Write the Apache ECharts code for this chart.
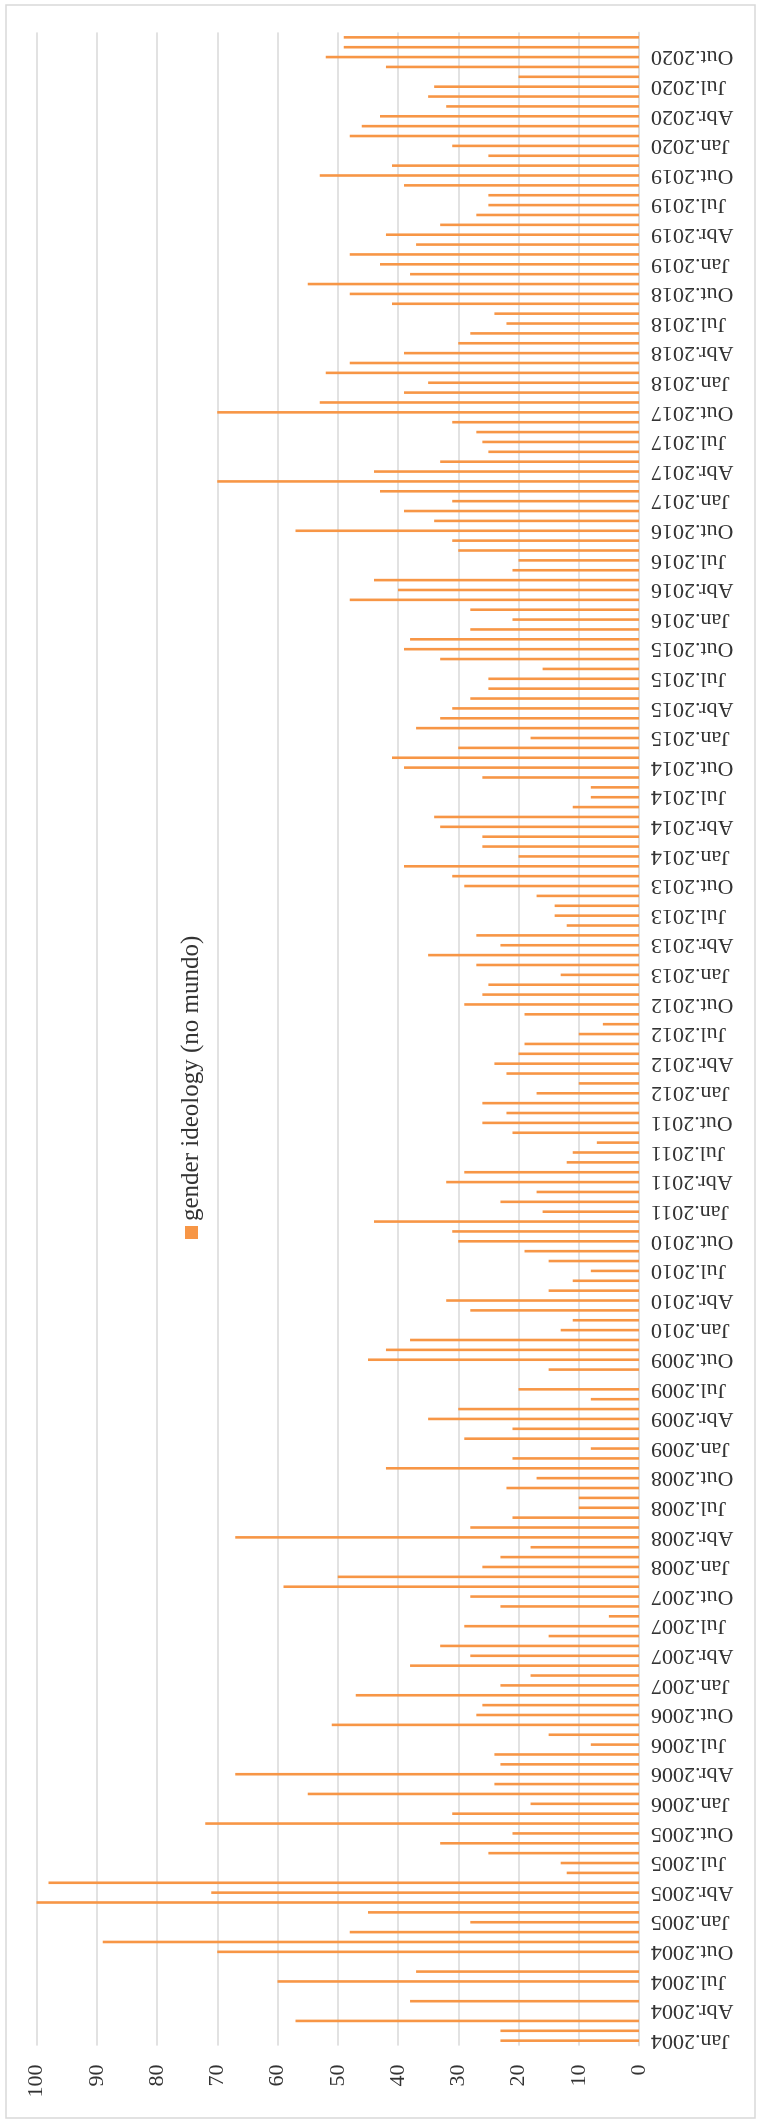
<!DOCTYPE html>
<html><head><meta charset="utf-8">
<script src="https://cdn.jsdelivr.net/npm/echarts@6/dist/echarts.min.js"></script>
<style>
html,body{margin:0;padding:0;background:#fff;width:760px;height:2123px;overflow:hidden;}
#chart{position:absolute;left:0;top:0;width:2123px;height:760px;transform-origin:0 0;transform:translateY(2123px) rotate(-90deg);}
</style></head><body><div id="chart"></div>
<script>
const months = ['Jan','Fev','Mar','Abr','Mai','Jun','Jul','Ago','Set','Out','Nov','Dez'];
const years = [2004,2005,2006,2007,2008,2009,2010,2011,2012,2013,2014,2015,2016,2017,2018,2019,2020];
const seriesName = 'gender ideology (no mundo)';
const yTicks = [0,10,20,30,40,50,60,70,80,90,100];
const v2004 = [23,23,57,0,38,0,60,37,0,70,89,48];
const v2005 = [28,45,100,71,98,12,13,25,33,21,72,31];
const v2006 = [18,55,24,67,23,24,8,15,51,27,26,47];
const v2007 = [23,18,38,28,33,15,29,5,23,28,59,50];
const v2008 = [26,23,18,67,28,21,10,10,22,17,42,21];
const v2009 = [8,29,21,35,30,8,20,0,15,45,42,38];
const v2010 = [13,11,28,32,15,11,8,15,19,30,31,44];
const v2011 = [16,23,17,32,29,12,11,7,21,26,22,26];
const v2012 = [17,10,22,24,20,19,10,6,19,29,26,25];
const v2013 = [13,27,35,23,27,12,14,14,17,29,31,39];
const v2014 = [20,26,26,33,34,11,8,8,26,39,41,30];
const v2015 = [18,37,33,31,28,25,25,16,33,39,38,28];
const v2016 = [21,28,48,40,44,21,20,30,31,57,34,39];
const v2017 = [31,43,70,44,33,25,26,27,31,70,53,39];
const v2018 = [35,52,48,39,30,28,22,24,41,48,55,38];
const v2019 = [43,48,37,42,33,27,25,25,39,53,41,25];
const v2020 = [31,48,46,43,32,35,34,20,42,52,49,49];

const perYear = [v2004,v2005,v2006,v2007,v2008,v2009,v2010,v2011,v2012,v2013,v2014,v2015,v2016,v2017,v2018,v2019,v2020];
const categories = [];
const values = [];
years.forEach((y, i) => {
  months.forEach((m, j) => {
    categories.push(m + '.' + y);
    values.push(perYear[i][j]);
  });
});

const FONT = '"Liberation Serif", "Times New Roman", Times, serif';
const chart = echarts.init(document.getElementById('chart'), null, {renderer: 'canvas'});
chart.setOption({
  animation: false,
  backgroundColor: '#ffffff',
  textStyle: {fontFamily: FONT},
  grid: {left: 77.4, right: 32.4, top: 36.5, bottom: 121, containLabel: false},
  legend: {
    data: [seriesName], left: 879, top: 174, icon: 'rect', itemWidth: 13, itemHeight: 13,
    textStyle: {fontSize: 25, color: '#333333', fontFamily: FONT}
  },
  xAxis: {
    type: 'category', data: categories,
    axisTick: {show: false},
    axisLine: {lineStyle: {color: '#D9D9D9', width: 1.5}},
    axisLabel: {interval: 2, rotate: 90, margin: 12, fontSize: 22, color: '#333333', fontFamily: FONT}
  },
  yAxis: {
    type: 'value', min: yTicks[0], max: yTicks[yTicks.length - 1], interval: 10,
    axisLine: {show: false}, axisTick: {show: false},
    splitLine: {lineStyle: {color: '#D9D9D9', width: 1.5}},
    axisLabel: {margin: 19, fontSize: 22, color: '#333333', fontFamily: FONT}
  },
  series: [{
    name: seriesName, type: 'bar', data: values, barWidth: 2.6,
    itemStyle: {color: '#F79646'}
  }],
  graphic: [{
    type: 'rect', silent: true,
    shape: {x: 5, y: 6, width: 2113, height: 749},
    style: {fill: null, stroke: '#D9D9D9', lineWidth: 1.5}
  }]
});
</script></body></html>
